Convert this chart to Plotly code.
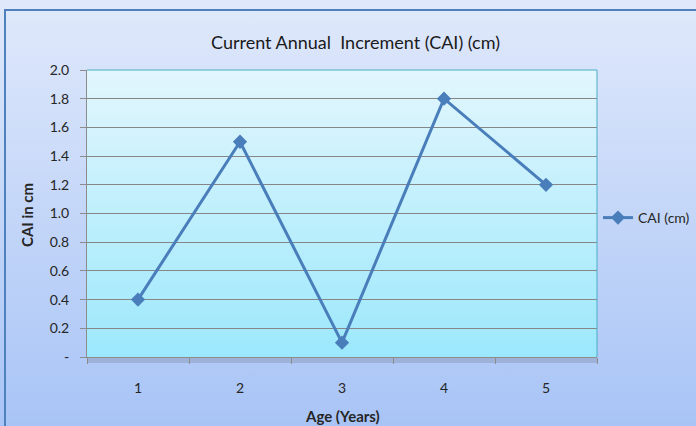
import base64
import plotly.graph_objects as go

ages = ["1", "2", "3", "4", "5"]
cai = [0.4, 1.5, 0.1, 1.8, 1.2]
y_tickvals = [0, 0.2, 0.4, 0.6, 0.8, 1.0, 1.2, 1.4, 1.6, 1.8, 2.0]
y_ticktext = ["-", "0.2", "0.4", "0.6", "0.8", "1.0", "1.2", "1.4", "1.6", "1.8", "2.0"]

W, H = 696, 426
L, R, T, B = 87, 597, 70, 357
pw, ph = R - L, B - T

def px_x(p):
    return (p - L) / pw

def px_y(q):
    return (B - q) / ph

def grad_uri(c0, c1):
    svg = ('<svg xmlns="http://www.w3.org/2000/svg" width="100" height="100" viewBox="0 0 100 100" '
           'preserveAspectRatio="none"><defs><linearGradient id="g" x1="0" y1="0" x2="0" y2="1">'
           f'<stop offset="0" stop-color="{c0}"/><stop offset="1" stop-color="{c1}"/>'
           '</linearGradient></defs><rect width="100" height="100" fill="url(#g)"/></svg>')
    return "data:image/svg+xml;base64," + base64.b64encode(svg.encode()).decode()

FONT = "Lato, Open Sans, sans-serif"
LINE = "#4a7ebb"

fig = go.Figure()
fig.add_trace(go.Scatter(
    x=ages, y=cai, mode="lines+markers", name="CAI (cm)",
    line=dict(color=LINE, width=3),
    marker=dict(symbol="diamond", size=11, color=LINE),
))

fig.update_layout(
    width=W, height=H,
    margin=dict(l=L, r=W - R, t=T, b=H - B, autoexpand=False),
    paper_bgcolor="#c8d8f8",
    plot_bgcolor="rgba(0,0,0,0)",
    font=dict(family=FONT, size=14, color="#262626"),
    showlegend=True,
    legend=dict(x=px_x(598), y=px_y(218), xanchor="left", yanchor="middle",
                bgcolor="rgba(0,0,0,0)", font=dict(size=14, color="#262626"),
                itemwidth=30),
    xaxis=dict(type="category", range=[-0.5, 4.5], tickson="boundaries", ticks="outside",
               ticklen=6, tickcolor="#8c8c8c", showline=True, linecolor="#8c8c8c",
               linewidth=1, showgrid=False, ticklabelstandoff=18, tickfont=dict(size=14)),
    yaxis=dict(range=[0, 2.0], tickvals=y_tickvals, ticktext=y_ticktext,
               ticks="outside", ticklen=6, tickcolor="#8c8c8c",
               showline=True, linecolor="#8c8c8c", linewidth=1,
               showgrid=True, gridcolor="#868686", gridwidth=1,
               zeroline=False, ticklabelstandoff=8, tickfont=dict(size=14)),
    images=[
        dict(source=grad_uri("#e0e9fb", "#a8c4f6"), xref="paper", yref="paper",
             x=px_x(0), y=px_y(0), sizex=W / pw, sizey=H / ph,
             xanchor="left", yanchor="top", sizing="stretch", layer="below"),
        dict(source=grad_uri("#e2f6fd", "#9ce8fc"), xref="paper", yref="paper",
             x=0, y=1, sizex=1, sizey=1,
             xanchor="left", yanchor="top", sizing="stretch", layer="below"),
    ],
    shapes=[
        dict(type="rect", xref="paper", yref="paper",
             x0=px_x(5), x1=px_x(705), y0=px_y(435), y1=px_y(10),
             line=dict(color="#4f81bd", width=2), fillcolor="rgba(0,0,0,0)", layer="above"),
        dict(type="rect", xref="paper", yref="paper",
             x0=0, x1=1, y0=px_y(363), y1=0, layer="below",
             line=dict(width=0), fillcolor="rgba(110,120,140,0.28)"),
        dict(type="line", xref="paper", yref="paper", x0=0, x1=1, y0=1, y1=1,
             line=dict(color="#4bacc6", width=1)),
        dict(type="line", xref="paper", yref="paper", x0=1, x1=1, y0=0, y1=1,
             line=dict(color="#4bacc6", width=1)),
    ],
    annotations=[
        dict(text="Current Annual  Increment (CAI) (cm)", xref="paper", yref="paper",
             x=px_x(355), y=px_y(42), xanchor="center", yanchor="middle", showarrow=False,
             font=dict(size=18, color="#1a1a1a", family=FONT)),
        dict(text="<b>CAI in cm</b>", xref="paper", yref="paper",
             x=px_x(27), y=px_y(215), xanchor="center", yanchor="middle",
             textangle=-90, showarrow=False,
             font=dict(size=15, color="#262626", family=FONT)),
        dict(text="<b>Age (Years)</b>", xref="paper", yref="paper",
             x=px_x(342), y=px_y(416), xanchor="center", yanchor="middle", showarrow=False,
             font=dict(size=15, color="#262626", family=FONT)),
    ],
)

fig.write_html("out.html", config={"displayModeBar": False},
               post_script="document.body.style.margin='0';")
